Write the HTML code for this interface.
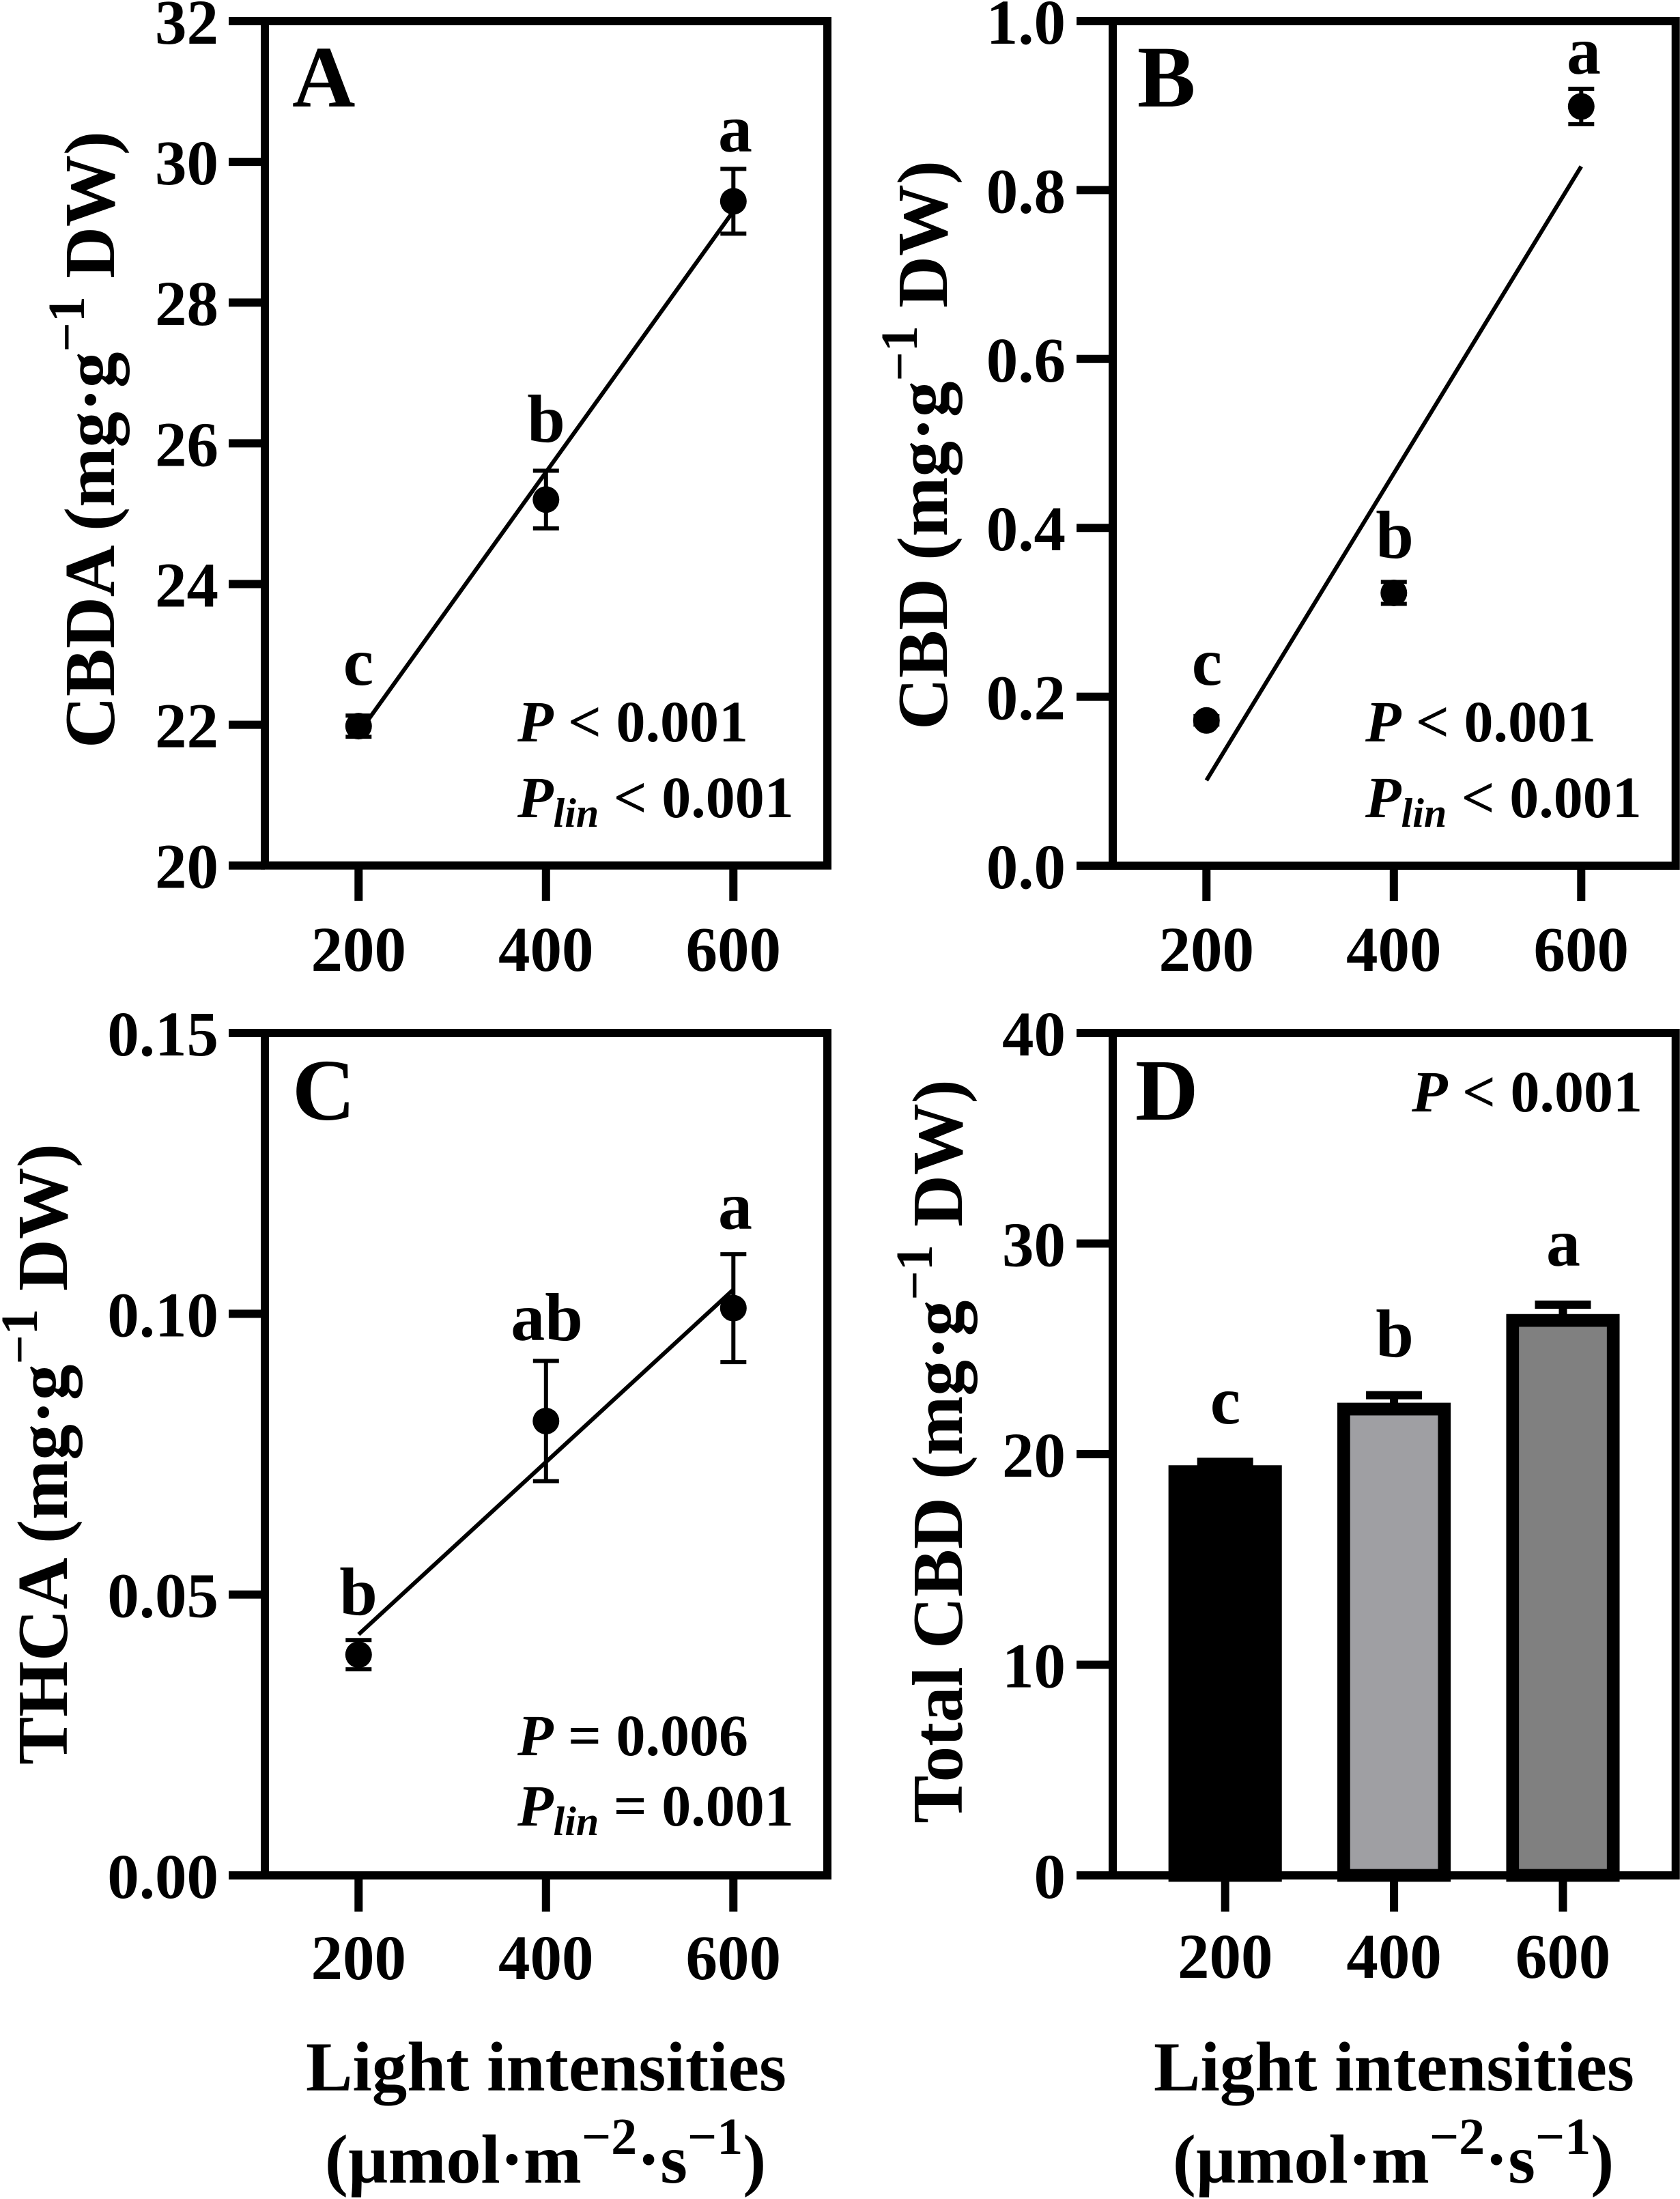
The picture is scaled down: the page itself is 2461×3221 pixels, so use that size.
<!DOCTYPE html>
<html lang="en">
<head>
<meta charset="utf-8">
<title>Cannabinoid content under light intensities</title>
<style>
html,body{margin:0;padding:0;background:#fff;width:2461px;height:3221px;overflow:hidden}
svg{display:block}
text{font-family:"Liberation Serif",serif;font-weight:bold;fill:#000}
.tick{font-size:93px}
.axis{font-size:105px}
.stat{font-size:86px;font-style:normal}
.letter{font-size:100px;text-anchor:middle}
.panel{font-size:128px}
.xt{font-size:102.6px;text-anchor:middle}
.un{font-size:102px;text-anchor:middle}
i,.it{font-style:italic}
</style>
</head>
<body>
<svg id="fig" xmlns="http://www.w3.org/2000/svg" width="2461" height="3221" viewBox="0 0 2461 3221">
  <rect x="0" y="0" width="2461" height="3221" fill="#fff"/>
  <g id="marks"></g>

  <text class="panel" x="428" y="156">A</text>
  <text class="panel" x="1666" y="156">B</text>
  <text class="panel" x="428" y="1640">C</text>
  <text class="panel" x="1663" y="1640">D</text>

  <text class="axis" text-anchor="middle" transform="translate(167,644) rotate(-90)">CBDA (mg·g<tspan font-size="76" dy="-44">−1</tspan><tspan dy="44"> DW)</tspan></text>
  <text class="axis" text-anchor="middle" transform="translate(1387,652) rotate(-90)">CBD (mg·g<tspan font-size="76" dy="-44">−1</tspan><tspan dy="44"> DW)</tspan></text>
  <text class="axis" text-anchor="middle" transform="translate(98,2130) rotate(-90)">THCA (mg·g<tspan font-size="76" dy="-44">−1</tspan><tspan dy="44"> DW)</tspan></text>
  <text class="axis" text-anchor="middle" transform="translate(1409,2126) rotate(-90)">Total CBD (mg·g<tspan font-size="76" dy="-44">−1</tspan><tspan dy="44"> DW)</tspan></text>

  <text class="letter" x="525" y="1003">c</text>
  <text class="letter" x="800" y="647">b</text>
  <text class="letter" x="1077" y="222">a</text>
  <text class="letter" x="1768" y="1003">c</text>
  <text class="letter" x="2043" y="817">b</text>
  <text class="letter" x="2320" y="108">a</text>
  <text class="letter" x="525" y="2365">b</text>
  <text class="letter" x="801" y="1963">ab</text>
  <text class="letter" x="1077" y="1800">a</text>
  <text class="letter" x="1795" y="2085">c</text>
  <text class="letter" x="2043" y="1987">b</text>
  <text class="letter" x="2290" y="1854">a</text>

  <text class="stat" x="758" y="1086"><tspan class="it">P</tspan> &lt; 0.001</text>
  <text class="stat" x="758" y="1197"><tspan class="it">P</tspan><tspan class="it" font-size="60" dy="14">lin</tspan><tspan dy="-14"> &lt; 0.001</tspan></text>
  <text class="stat" x="2000" y="1086"><tspan class="it">P</tspan> &lt; 0.001</text>
  <text class="stat" x="2000" y="1197"><tspan class="it">P</tspan><tspan class="it" font-size="60" dy="14">lin</tspan><tspan dy="-14"> &lt; 0.001</tspan></text>
  <text class="stat" x="758" y="2571"><tspan class="it">P</tspan> = 0.006</text>
  <text class="stat" x="758" y="2674"><tspan class="it">P</tspan><tspan class="it" font-size="60" dy="14">lin</tspan><tspan dy="-14"> = 0.001</tspan></text>
  <text class="stat" x="2068" y="1628"><tspan class="it">P</tspan> &lt; 0.001</text>

  <text class="xt" x="800" y="3062">Light intensities</text>
  <text class="un" x="799" y="3197">(µmol·m<tspan font-size="76" dy="-42">−2</tspan><tspan dy="42">·s</tspan><tspan font-size="76" dy="-42">−1</tspan><tspan dy="42">)</tspan></text>
  <text class="xt" x="2042" y="3062">Light intensities</text>
  <text class="un" x="2041" y="3197">(µmol·m<tspan font-size="76" dy="-42">−2</tspan><tspan dy="42">·s</tspan><tspan font-size="76" dy="-42">−1</tspan><tspan dy="42">)</tspan></text>
</svg>

<script>
// Shared category axis
var categories = [200, 400, 600];

// Panel A: CBDA
var cbdaMeans = [21.98, 25.2, 29.44];
var cbdaErrors = [0.15, 0.41, 0.46];
var cbdaFit = [21.88, 29.3];
var cbdaTicks = [20, 22, 24, 26, 28, 30, 32];
var cbdaTickLabels = ['20', '22', '24', '26', '28', '30', '32'];

// Panel B: CBD
var cbdMeans = [0.172, 0.323, 0.899];
var cbdErrors = [0.005, 0.013, 0.021];
var cbdFit = [0.101, 0.828];
var cbdTicks = [0, 0.2, 0.4, 0.6, 0.8, 1];
var cbdTickLabels = ['0.0', '0.2', '0.4', '0.6', '0.8', '1.0'];

// Panel C: THCA
var thcaMeans = [0.0393, 0.0809, 0.101];
var thcaErrors = [0.0026, 0.0107, 0.0096];
var thcaFit = [0.0429, 0.1043];
var thcaTicks = [0, 0.05, 0.1, 0.15];
var thcaTickLabels = ['0.00', '0.05', '0.10', '0.15'];

// Panel D: Total CBD
var totalMeans = [19.17, 22.14, 26.35];
var totalErrors = [0.47, 0.66, 0.75];
var totalTicks = [0, 10, 20, 30, 40];
var totalTickLabels = ['0', '10', '20', '30', '40'];
var barFills = ['#000000', '#9f9fa3', '#808080'];

var NS = 'http://www.w3.org/2000/svg';
var root = document.getElementById('marks');

function mk(tag, attrs, name, parent) {
  var el = document.createElementNS(NS, tag);
  for (var k in attrs) el.setAttribute(k, attrs[k]);
  
  
  (parent || root).appendChild(el);
  return el;
}

function linear(d0, d1, r0, r1) {
  return function (v) { return r0 + (v - d0) * (r1 - r0) / (d1 - d0); };
}

function seg(x1, y1, x2, y2, w, name, parent) {
  return mk('line', { x1: x1, y1: y1, x2: x2, y2: y2, stroke: '#000', 'stroke-width': w }, name, parent);
}

function drawAxes(p, id) {
  var g = mk('g', {}, 'axes-' + id);
  p.ticks.forEach(function (t, i) {
    var y = p.y(t);
    seg(p.left - 53, y, p.left, y, 12, 'y-tick-' + id + '-' + p.labels[i], g);
    var lab = mk('text', { x: p.labelRight, y: y + p.yLabelDy, 'text-anchor': 'end', 'class': 'tick' }, 'y-tick-label-' + id + '-' + p.labels[i], g);
    lab.textContent = p.labels[i];
  });
  categories.forEach(function (c, i) {
    var x = p.x(i);
    seg(x, p.bottom, x, p.bottom + p.tickLen, 12, 'x-tick-' + id + '-' + c, g);
    var lab = mk('text', { x: x, y: p.xLabelY, 'text-anchor': 'middle', 'class': 'tick' }, 'x-tick-label-' + id + '-' + c, g);
    lab.textContent = String(c);
  });
}

function drawFrame(p, id) {
  mk('rect', { x: p.left, y: p.top, width: p.right - p.left, height: p.bottom - p.top, fill: 'none', stroke: '#000', 'stroke-width': 12 }, 'plot-frame-' + id);
}

function drawScatter(p, id, means, errors, fit) {
  var g = mk('g', {}, 'series-' + id);
  categories.forEach(function (c, i) {
    var x = p.x(i);
    var up = p.y(means[i] + errors[i]);
    var lo = p.y(means[i] - errors[i]);
    seg(x, up, x, lo, 6, 'error-bar-' + id + '-' + c, g);
    seg(x - 19, up, x + 19, up, 6, 'error-cap-upper-' + id + '-' + c, g);
    seg(x - 19, lo, x + 19, lo, 6, 'error-cap-lower-' + id + '-' + c, g);
    mk('circle', { cx: x, cy: p.y(means[i]), r: 19.5, fill: '#000' }, 'point-' + id + '-' + c, g);
  });
  seg(p.x(0), p.y(fit[0]), p.x(2), p.y(fit[1]), 6, 'regression-line-' + id, g);
}

function drawBars(p, id, means, errors) {
  var g = mk('g', {}, 'series-' + id);
  categories.forEach(function (c, i) {
    var x = p.x(i);
    var up = p.y(means[i] + errors[i]);
    seg(x, up, x, p.y(means[i]), 12, 'error-bar-' + id + '-' + c, g);
    seg(x - 41, up, x + 41, up, 12, 'error-cap-' + id + '-' + c, g);
    var top = p.y(means[i]);
    mk('rect', { x: x - 73.7, y: top, width: 147.4, height: p.y(0) - top, fill: barFills[i], stroke: '#000', 'stroke-width': 18.7 }, 'bar-' + id + '-' + c, g);
  });
}

function panel(left, right, top, bottom, dMin, dMax, ticks, labels, xFirst, xLast, labelRight, yLabelDy, tickLen, xLabelY) {
  return {
    left: left, right: right, top: top, bottom: bottom,
    y: linear(dMin, dMax, bottom, top),
    x: linear(0, categories.length - 1, xFirst, xLast),
    ticks: ticks, labels: labels,
    labelRight: labelRight, yLabelDy: yLabelDy, tickLen: tickLen, xLabelY: xLabelY
  };
}

var pA = panel(388, 1212, 31, 1267.7, 20, 32, cbdaTicks, cbdaTickLabels, 525.3, 1074.3, 320, 33, 52, 1422);
var pB = panel(1630, 2454.7, 31, 1268, 0, 1, cbdTicks, cbdTickLabels, 1767.3, 2316.3, 1561, 33, 52, 1422);
var pC = panel(388, 1212, 1513, 2747, 0, 0.15, thcaTicks, thcaTickLabels, 525.3, 1074.3, 320, 33, 53, 2899);
var pD = panel(1630, 2454.7, 1513, 2747, 0, 40, totalTicks, totalTickLabels, 1794.7, 2289.5, 1561, 33, 53, 2897);

drawAxes(pA, 'a');
drawFrame(pA, 'a');
drawScatter(pA, 'a', cbdaMeans, cbdaErrors, cbdaFit);

drawAxes(pB, 'b');
drawFrame(pB, 'b');
drawScatter(pB, 'b', cbdMeans, cbdErrors, cbdFit);

drawAxes(pC, 'c');
drawFrame(pC, 'c');
drawScatter(pC, 'c', thcaMeans, thcaErrors, thcaFit);

drawAxes(pD, 'd');
drawBars(pD, 'd', totalMeans, totalErrors);
drawFrame(pD, 'd');
</script>
</body>
</html>
